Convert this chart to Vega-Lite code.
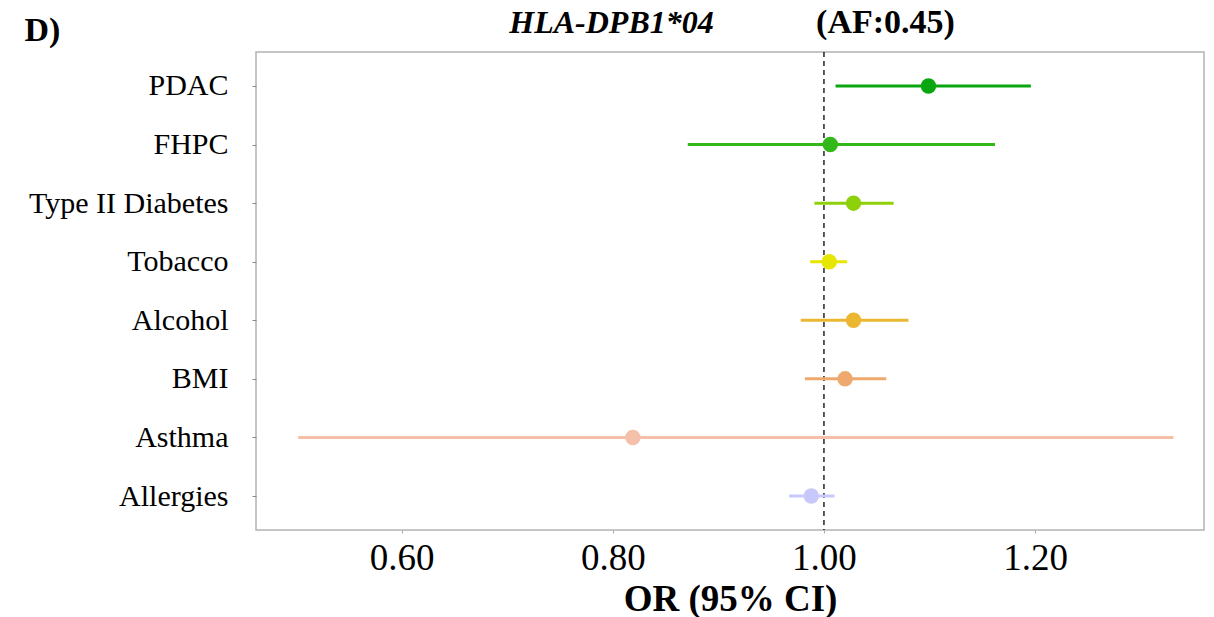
{
  "$schema": "https://vega.github.io/schema/vega-lite/v6.json",
  "autosize": "none",
  "width": 948,
  "height": 478,
  "padding": {"left": 256, "top": 52, "right": 10, "bottom": 87},
  "background": "white",
  "config": {
    "view": {"stroke": "#b3b3b3", "strokeWidth": 1.5},
    "font": "Liberation Serif"
  },
  "data": {
    "values": [
      {"trait": "PDAC", "or": 1.099, "lo": 1.011, "hi": 1.196, "color": "#09a60f"},
      {"trait": "FHPC", "or": 1.006, "lo": 0.871, "hi": 1.162, "color": "#33b81a"},
      {"trait": "Type II Diabetes", "or": 1.028, "lo": 0.991, "hi": 1.066, "color": "#8ed10a"},
      {"trait": "Tobacco", "or": 1.005, "lo": 0.987, "hi": 1.022, "color": "#e6e600"},
      {"trait": "Alcohol", "or": 1.028, "lo": 0.978, "hi": 1.080, "color": "#ebb630"},
      {"trait": "BMI", "or": 1.020, "lo": 0.982, "hi": 1.059, "color": "#eeaa6e"},
      {"trait": "Asthma", "or": 0.819, "lo": 0.502, "hi": 1.331, "color": "#f4c0aa"},
      {"trait": "Allergies", "or": 0.988, "lo": 0.967, "hi": 1.010, "color": "#c8c8fa"}
    ]
  },
  "resolve": {"axis": {"x": "independent"}},
  "layer": [
    {
      "mark": {"type": "rule", "color": "black", "strokeDash": [5, 4], "strokeWidth": 1.3},
      "data": {"values": [{"ref": 1.0}]},
      "encoding": {
        "x": {
          "field": "ref", "type": "quantitative",
          "scale": {"domain": [0.462, 1.36], "nice": false, "zero": false},
          "axis": {
            "orient": "top", "title": "(AF:0.45)", "labels": false, "ticks": false, "domain": false, "grid": false,
            "titleFont": "Liberation Serif", "titleFontSize": 34, "titleFontWeight": "bold", "titleColor": "black",
            "titleX": 629, "titleY": -20, "titleBaseline": "alphabetic", "titleAlign": "center"
          }
        }
      }
    },
    {
      "mark": {"type": "rule", "strokeWidth": 3},
      "encoding": {
        "y": {
          "field": "trait", "type": "nominal", "sort": null,
          "scale": {"type": "point", "padding": 0.58},
          "axis": {
            "title": "D)", "titleAngle": 0, "titleFont": "Liberation Serif", "titleFontSize": 34, "titleFontWeight": "bold",
            "titleColor": "black", "titleX": -214, "titleY": -12, "titleBaseline": "alphabetic", "titleAlign": "center",
            "labelFont": "Liberation Serif", "labelFontSize": 30, "labelColor": "black", "labelPadding": 24, "labelLimit": 400,
            "tickColor": "#888888", "tickSize": 4, "domain": false, "grid": false
          }
        },
        "x": {
          "field": "lo", "type": "quantitative",
          "axis": {
            "title": "OR (95% CI)", "values": [0.6, 0.8, 1.0, 1.2], "format": ".2f",
            "labelFont": "Liberation Serif", "labelFontSize": 37, "labelColor": "black", "labelPadding": 7,
            "tickColor": "#aaaaaa", "tickSize": 3, "domain": false, "grid": false,
            "titleFont": "Liberation Serif", "titleFontSize": 37, "titleFontWeight": "bold", "titleColor": "black", "titlePadding": 5
          }
        },
        "x2": {"field": "hi"},
        "color": {"field": "color", "type": "nominal", "scale": null}
      }
    },
    {
      "mark": {"type": "circle", "size": 240, "opacity": 1},
      "encoding": {
        "y": {"field": "trait", "type": "nominal", "sort": null},
        "x": {
          "field": "or", "type": "quantitative",
          "axis": {
            "orient": "top", "title": "HLA-DPB1*04", "labels": false, "ticks": false, "domain": false, "grid": false,
            "titleFont": "Liberation Serif", "titleFontSize": 32, "titleFontWeight": "bold", "titleFontStyle": "italic", "titleColor": "black",
            "titleX": 355, "titleY": -20, "titleBaseline": "alphabetic", "titleAlign": "center"
          }
        },
        "color": {"field": "color", "type": "nominal", "scale": null}
      }
    }
  ]
}
